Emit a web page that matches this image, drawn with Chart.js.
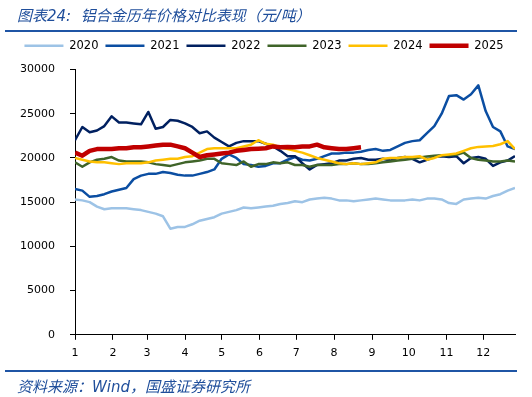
<!DOCTYPE html>
<html>
<head>
<meta charset="utf-8">
<script src="https://cdn.jsdelivr.net/npm/chart.js@4/dist/chart.umd.min.js"></script>
<style>
  body { margin: 0; background: #fff; }
  .wrap { position: relative; width: 532px; height: 397px; overflow: hidden; }
  canvas { position: absolute; left: 0; top: 0; }
  .title, .source {
    position: absolute; left: 17px; white-space: nowrap;
    font-family: "DejaVu Sans", "Noto Sans CJK SC", sans-serif;
    font-style: italic; color: #1F4E9B;
  }
  .title { top: 4px; font-size: 15px; }
  .source { top: 375px; font-size: 15px; }
  .rule { position: absolute; left: 5px; width: 512px; height: 2px; background: #1F55A5; }
</style>
</head>
<body>
<div class="wrap">
  <canvas id="chart" width="532" height="397"></canvas>
  <div class="title">图表24:&nbsp; 铝合金历年价格对比表现（元/吨）</div>
  <div class="rule" style="top:30px"></div>
  <div class="rule" style="top:370px"></div>
  <div class="source">资料来源：Wind，国盛证券研究所</div>
</div>
<script>
// day of year for each sample (shared by all years)
const days = [0, 6, 12, 18, 24, 30, 36, 42, 48, 54, 60, 66, 72, 78, 84, 90, 96, 102, 108, 114,
  120, 126, 132, 138, 144, 150, 156, 162, 168, 174, 180, 186, 192, 198, 204, 210, 216, 222, 228, 234,
  240, 246, 252, 258, 264, 270, 276, 282, 288, 294, 300, 306, 312, 318, 324, 330, 336, 342, 348, 354, 360];

const monthStarts = [0, 31, 59, 90, 120, 151, 181, 212, 243, 273, 304, 334];
const monthLabels = ["1", "2", "3", "4", "5", "6", "7", "8", "9", "10", "11", "12"];
const yTicks = [0, 5000, 10000, 15000, 20000, 25000, 30000];

const p2020 = [15300, 15200, 15000, 14500, 14200, 14300, 14300, 14300, 14200, 14100, 13900, 13700, 13400, 12000, 12200, 12200, 12500, 12900, 13100, 13300,
  13700, 13900, 14100, 14400, 14300, 14400, 14500, 14600, 14800, 14900, 15100, 15000, 15300, 15400, 15500, 15400, 15200, 15200, 15100, 15200,
  15300, 15400, 15300, 15200, 15200, 15200, 15300, 15200, 15400, 15400, 15300, 14900, 14800, 15300, 15400, 15500, 15400, 15700, 15900, 16300, 16600];
const p2021 = [16500, 16300, 15600, 15700, 15900, 16200, 16400, 16600, 17600, 18000, 18200, 18200, 18400, 18300, 18100, 18000, 18000, 18200, 18400, 18700,
  19900, 20400, 20000, 19300, 19200, 19000, 19100, 19400, 19400, 19800, 20100, 19800, 19700, 19900, 20200, 20500, 20500, 20600, 20600, 20700,
  20900, 21000, 20800, 20900, 21300, 21700, 21900, 22000, 22800, 23600, 25000, 27000, 27100, 26600, 27200, 28200, 25300, 23500, 23000, 21300, 21000];
const p2022 = [22000, 23500, 22900, 23100, 23600, 24700, 24000, 24000, 23900, 23800, 25200, 23300, 23500, 24300, 24200, 23900, 23500, 22800, 23000, 22300,
  21800, 21300, 21700, 21900, 21900, 21900, 21600, 21300, 20800, 20200, 20200, 19400, 18700, 19200, 19300, 19400, 19700, 19700, 19900, 20000,
  19800, 19800, 19900, 19700, 20000, 20100, 19900, 19500, 19800, 20100, 20200, 20100, 20200, 19400, 20000, 20100, 19900, 19100, 19500, 19700, 20200];
const p2023 = [19500, 19000, 19500, 19800, 19900, 20100, 19700, 19600, 19600, 19600, 19500, 19300, 19200, 19100, 19300, 19500, 19600, 19700, 19900, 19900,
  19400, 19300, 19200, 19600, 19000, 19300, 19300, 19500, 19400, 19500, 19200, 19200, 19000, 19200, 19200, 19200, 19300, 19300, 19400, 19300,
  19300, 19400, 19500, 19600, 19700, 19800, 19900, 20050, 20150, 20250, 20300, 20300, 20350, 20600, 20000, 19800, 19700, 19600, 19600, 19700, 19600];
const p2024 = [20000, 19800, 19600, 19500, 19500, 19400, 19300, 19400, 19400, 19400, 19500, 19700, 19800, 19900, 19900, 20100, 20200, 20600, 21000, 21100,
  21100, 21100, 21100, 21300, 21500, 22000, 21600, 21500, 21200, 21000, 20800, 20600, 20300, 20000, 19800, 19600, 19400, 19300, 19400, 19300,
  19400, 19500, 19900, 20000, 20000, 20100, 20100, 20200, 19800, 20000, 20300, 20400, 20500, 20800, 21100, 21250, 21300, 21350, 21550, 21900, 21000];
const p2025 = [20600, 20250, 20800, 21000, 21000, 21000, 21100, 21100, 21200, 21200, 21300, 21400, 21500, 21500, 21300, 21100, 20600, 20100, 20300, 20400,
  20500, 20600, 20800, 20900, 21000, 21050, 21100, 21300, 21200, 21250, 21200, 21300, 21300, 21500, 21200, 21100, 21000, 21000, 21100, 21200];

const years = ["2020", "2021", "2022", "2023", "2024", "2025"];
const colors = ["#9DC3E6", "#0B4EA2", "#002060", "#3F6429", "#FFC000", "#C00000"];
const widths = [2.5, 2.5, 2.5, 2.5, 2.5, 4.5];
const values = [p2020, p2021, p2022, p2023, p2024, p2025];

const datasets = years.map((y, i) => ({
  label: y,
  data: values[i].map((v, k) => ({ x: days[k], y: v })),
  borderColor: colors[i],
  backgroundColor: colors[i],
  borderWidth: widths[i],
  pointRadius: 0,
  tension: 0,
  fill: false,
  borderJoinStyle: "round",
  order: years.length - i,
}));

// extra room between legend and plot
const legendGap = {
  id: "legendGap",
  beforeInit(chart) {
    const legend = chart.legend;
    if (!legend) return;
    const fit = legend.fit;
    legend.fit = function () {
      fit.call(this);
      this.height += 8;
    };
  },
};

const tickFont = { family: "DejaVu Sans", size: 11 };

new Chart(document.getElementById("chart"), {
  type: "line",
  data: { datasets },
  plugins: [legendGap],
  options: {
    responsive: false,
    animation: false,
    layout: { padding: { top: 33, left: 13, right: 17, bottom: 30 } },
    plugins: {
      tooltip: { enabled: false },
      legend: {
        position: "top",
        labels: {
          usePointStyle: true,
          pointStyle: "line",
          pointStyleWidth: 39,
          padding: 7,
          color: "#000",
          font: { family: "DejaVu Sans", size: 11.5 },
          sort: (a, b) => a.datasetIndex - b.datasetIndex,
        },
      },
    },
    scales: {
      x: {
        type: "linear",
        min: 0,
        max: 360,
        afterBuildTicks: (scale) => { scale.ticks = monthStarts.map((v) => ({ value: v })); },
        ticks: {
          autoSkip: false,
          maxRotation: 0,
          padding: 7,
          color: "#000",
          font: tickFont,
          callback: (v) => monthLabels[monthStarts.indexOf(v)],
        },
        grid: { drawOnChartArea: false, drawTicks: true, tickLength: 5, color: "#000" },
        border: { display: true, color: "#000", width: 1 },
      },
      y: {
        min: 0,
        max: 30000,
        afterBuildTicks: (scale) => { scale.ticks = yTicks.map((v) => ({ value: v })); },
        afterFit: (scale) => { scale.width = 62; },
        ticks: { padding: 15, color: "#000", font: tickFont, callback: (v) => String(v) },
        grid: { drawOnChartArea: false, drawTicks: true, tickLength: 5, color: "#000" },
        border: { display: true, color: "#000", width: 1 },
      },
    },
  },
});
</script>
</body>
</html>
